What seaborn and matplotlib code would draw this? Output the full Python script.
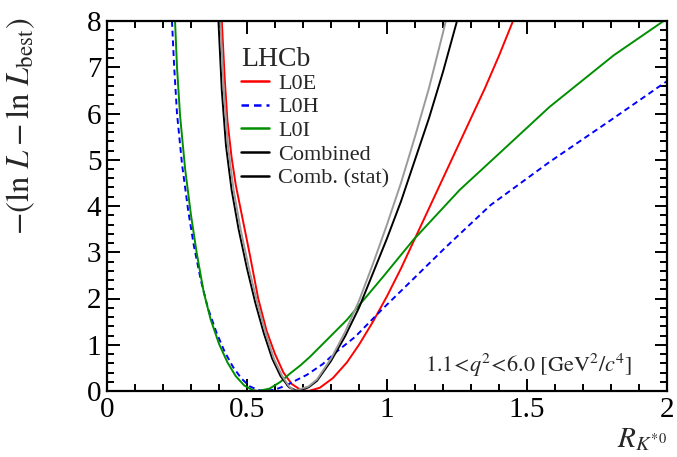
import numpy as np
import pandas as pd
import matplotlib
matplotlib.use("Agg")
import matplotlib.pyplot as plt
import seaborn as sns
from matplotlib.lines import Line2D
from matplotlib.ticker import MultipleLocator, FuncFormatter

# ---------------- data ----------------
series_names = ["L0E", "L0H", "L0I", "Combined", "Comb. (stat)"]

l0e_R = [0.41, 0.42, 0.43, 0.445, 0.46, 0.485, 0.51, 0.54, 0.57, 0.60, 0.63, 0.66, 0.69, 0.72,
         0.76, 0.807, 0.857, 0.90, 0.95, 1.00, 1.05, 1.10, 1.15, 1.20, 1.25, 1.30, 1.35, 1.40, 1.45]
l0e_nll = [8.0, 6.8, 5.85, 5.05, 4.45, 3.7, 2.95, 2.0, 1.3, 0.8, 0.4, 0.15, 0.03, 0.0,
           0.07, 0.28, 0.62, 1.0, 1.5, 2.05, 2.65, 3.3, 3.95, 4.6, 5.25, 5.9, 6.55, 7.25, 8.0]

l0h_R = [0.232, 0.24, 0.25, 0.268, 0.29, 0.31, 0.335, 0.36, 0.39, 0.42, 0.45, 0.48, 0.51, 0.54, 0.565,
         0.60, 0.64, 0.678, 0.714, 0.77, 0.82, 0.886, 0.98, 1.08, 1.21, 1.37, 1.58, 1.80, 2.0]
l0h_nll = [8.0, 7.0, 6.0, 4.9, 3.9, 3.15, 2.4, 1.8, 1.28, 0.85, 0.52, 0.27, 0.1, 0.02, 0.0,
           0.03, 0.12, 0.24, 0.35, 0.58, 0.85, 1.17, 1.75, 2.34, 3.11, 4.02, 4.95, 5.86, 6.7]

l0i_R = [0.243, 0.25, 0.261, 0.279, 0.30, 0.32, 0.345, 0.37, 0.40, 0.43, 0.46, 0.49, 0.52, 0.54,
         0.58, 0.62, 0.654, 0.69, 0.725, 0.796, 0.857, 0.986, 1.093, 1.26, 1.414, 1.58, 1.81, 2.0]
l0i_nll = [8.0, 7.0, 5.95, 4.8, 3.8, 3.0, 2.15, 1.55, 1.02, 0.62, 0.32, 0.12, 0.02, 0.0,
           0.05, 0.2, 0.38, 0.55, 0.74, 1.17, 1.54, 2.47, 3.26, 4.35, 5.21, 6.14, 7.26, 8.05]

comb_R = [0.398, 0.41, 0.425, 0.445, 0.47, 0.50, 0.53, 0.56, 0.59, 0.62, 0.65, 0.68,
          0.72, 0.75, 0.80, 0.85, 0.90, 0.95, 1.00, 1.05, 1.10, 1.15, 1.20, 1.25]
comb_nll = [8.0, 6.5, 5.3, 4.35, 3.5, 2.65, 1.9, 1.25, 0.7, 0.32, 0.08, 0.0,
            0.08, 0.22, 0.65, 1.18, 1.8, 2.55, 3.3, 4.1, 5.0, 5.9, 6.9, 8.0]

stat_R = [0.405, 0.417, 0.432, 0.452, 0.477, 0.507, 0.537, 0.567, 0.596, 0.626, 0.65, 0.67,
          0.72, 0.75, 0.80, 0.85, 0.90, 0.95, 1.00, 1.05, 1.10, 1.15, 1.20, 1.212]
stat_nll = [8.0, 6.5, 5.3, 4.35, 3.5, 2.65, 1.9, 1.25, 0.7, 0.32, 0.1, 0.0,
            0.1, 0.25, 0.7, 1.27, 1.95, 2.75, 3.6, 4.5, 5.5, 6.55, 7.75, 8.05]

x_ticks = [0, 0.5, 1, 1.5, 2]
y_ticks = [0, 1, 2, 3, 4, 5, 6, 7, 8]

# ---------------- build table ----------------
frames = []
for name, r, v in zip(series_names,
                      [l0e_R, l0h_R, l0i_R, comb_R, stat_R],
                      [l0e_nll, l0h_nll, l0i_nll, comb_nll, stat_nll]):
    frames.append(pd.DataFrame({"R": r, "nll": v, "series": name}))
df = pd.concat(frames, ignore_index=True)

colors = {"L0E": "#ff0000", "L0H": "#0000ff", "L0I": "#008f00",
          "Combined": "#000000", "Comb. (stat)": "#9a9a9a"}
dashes = {"L0E": "", "L0H": (3, 2), "L0I": "", "Combined": "", "Comb. (stat)": ""}

# ---------------- style ----------------
sns.set_theme(style="ticks")
plt.rcParams["font.family"] = ["Liberation Serif", "DejaVu Serif"]
plt.rcParams["mathtext.fontset"] = "stix"

fig = plt.figure(figsize=(6.77, 4.57), dpi=100)
ax = fig.add_axes([107 / 677, 1 - 391 / 457, 560 / 677, 370 / 457])

sns.lineplot(data=df, x="R", y="nll", hue="series", style="series",
             palette=colors, dashes=dashes, hue_order=series_names,
             style_order=series_names, estimator=None, sort=False,
             linewidth=1.4, legend=False, ax=ax)

ax.set_xlim(0, 2)
ax.set_ylim(0, 8)
ax.set_xticks(x_ticks)
ax.set_yticks(y_ticks)
ax.xaxis.set_minor_locator(MultipleLocator(0.1))
ax.yaxis.set_minor_locator(MultipleLocator(0.2))
fmt = FuncFormatter(lambda v, p: "%g" % v)
ax.xaxis.set_major_formatter(fmt)
ax.yaxis.set_major_formatter(fmt)
ax.tick_params(which="both", direction="in", top=True, right=True,
               width=1.4, colors="black", labelsize=21)
ax.tick_params(which="major", length=9)
ax.tick_params(which="minor", length=5)
ax.tick_params(axis="x", which="major", pad=4)
ax.tick_params(axis="y", which="major", pad=4)
for s in ax.spines.values():
    s.set_linewidth(1.6)
    s.set_color("black")

ax.set_xlabel(r"$R_{K^{*0}}$", fontsize=21, loc="right")
ax.set_ylabel(r"$-(\ln\,L - \ln\,L_{\rm best})$", fontsize=23.5, loc="top")
ax.yaxis.set_label_coords(-0.125, 1.01)
ax.xaxis.set_label_coords(1.0, -0.095)

ax.text(0.9375, 0.07, r"$1.1\!<\!q^{2}\!<\!6.0\ [\mathrm{GeV}^{2}/c^{4}]$",
        transform=ax.transAxes, ha="right", va="center", fontsize=16)

handles = [Line2D([], [], color="#ff0000", lw=1.8),
           Line2D([], [], color="#0000ff", lw=1.8, dashes=(3, 2)),
           Line2D([], [], color="#008f00", lw=1.8),
           Line2D([], [], color="black", lw=1.8),
           Line2D([], [], color="black", lw=1.8)]
leg = ax.legend(handles, series_names, title="LHCb", loc="upper left",
                bbox_to_anchor=(0.24, 0.935), frameon=False, fontsize=16,
                title_fontsize=20, handlelength=1.25, handletextpad=0.4,
                labelspacing=0.14, borderpad=0, borderaxespad=0,
                alignment="left")
leg.get_title().set_position((0, -2))

fig.savefig("out.png", dpi=100)
